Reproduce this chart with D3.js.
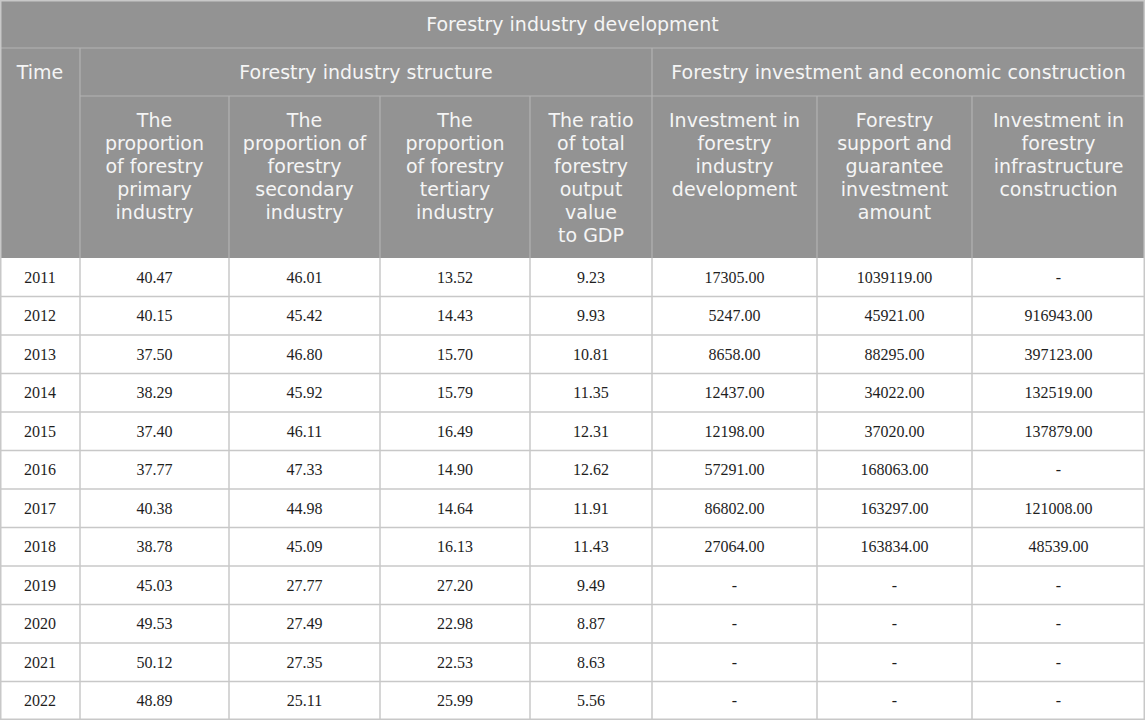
<!DOCTYPE html>
<html>
<head>
<meta charset="utf-8">
<script src="https://cdn.jsdelivr.net/npm/d3@7"></script>
<style>
  html, body { margin: 0; padding: 0; background: #fff; }
</style>
</head>
<body>
<div id="table"></div>
<script>
// table data
const title = "Forestry industry development";
const groupHeaders = ["Forestry industry structure", "Forestry investment and economic construction"];
const columnHeaders = [
  ["The", "proportion", "of forestry", "primary", "industry"],
  ["The", "proportion of", "forestry", "secondary", "industry"],
  ["The", "proportion", "of forestry", "tertiary", "industry"],
  ["The ratio", "of total", "forestry", "output", "value", "to GDP"],
  ["Investment in", "forestry", "industry", "development"],
  ["Forestry", "support and", "guarantee", "investment", "amount"],
  ["Investment in", "forestry", "infrastructure", "construction"]
];
const years = [2011, 2012, 2013, 2014, 2015, 2016, 2017, 2018, 2019, 2020, 2021, 2022];
const primaryShare   = ["40.47","40.15","37.50","38.29","37.40","37.77","40.38","38.78","45.03","49.53","50.12","48.89"];
const secondaryShare = ["46.01","45.42","46.80","45.92","46.11","47.33","44.98","45.09","27.77","27.49","27.35","25.11"];
const tertiaryShare  = ["13.52","14.43","15.70","15.79","16.49","14.90","14.64","16.13","27.20","22.98","22.53","25.99"];
const outputToGdp    = ["9.23","9.93","10.81","11.35","12.31","12.62","11.91","11.43","9.49","8.87","8.63","5.56"];
const industryInvest = ["17305.00","5247.00","8658.00","12437.00","12198.00","57291.00","86802.00","27064.00","-","-","-","-"];
const supportInvest  = ["1039119.00","45921.00","88295.00","34022.00","37020.00","168063.00","163297.00","163834.00","-","-","-","-"];
const infraInvest    = ["-","916943.00","397123.00","132519.00","137879.00","-","121008.00","48539.00","-","-","-","-"];

const W = 1145, H = 720;
const colEdges = [0, 80, 229, 380, 530, 652, 817, 972, 1145];
const headBg = "#939393", headLine = "#b3b3b3", gridLine = "#c8c8c8";

const svg = d3.select("#table").append("svg")
  .attr("width", W).attr("height", H)
  .style("display", "block");

// rows: three header rows then 12 data rows
const y = d3.scaleBand().domain(years).range([258, H]);

const columns = [years.map(String), primaryShare, secondaryShare, tertiaryShare, outputToGdp,
                 industryInvest, supportInvest, infraInvest];

// header background
svg.append("rect").attr("x", 0).attr("y", 0).attr("width", W).attr("height", 258).attr("fill", headBg);

const headFont = "'DejaVu Sans', 'Noto Sans', sans-serif";
const headSize = 19;
const headText = "#f5f5f5";

function headLabel(txt, x, yy) {
  return svg.append("text").text(txt)
    .attr("x", x).attr("y", yy).attr("dy", "0.35em")
    .attr("text-anchor", "middle").attr("font-family", headFont).attr("font-size", headSize)
    .attr("fill", headText);
}

headLabel(title, W / 2, 24);
headLabel("Time", (colEdges[0] + colEdges[1]) / 2, 72);

// group headers
const groupSpans = [[1, 5], [5, 8]];
groupSpans.forEach(([a, b], i) => headLabel(groupHeaders[i], (colEdges[a] + colEdges[b]) / 2, 72));

// column headers
columnHeaders.forEach((lines, i) => {
  const cx = (colEdges[i + 1] + colEdges[i + 2]) / 2;
  const t = svg.append("text")
    .attr("text-anchor", "middle").attr("font-family", headFont).attr("font-size", headSize)
    .attr("fill", headText);
  lines.forEach((ln, j) => {
    t.append("tspan").text(ln).attr("x", cx).attr("y", 120 + j * 23).attr("dy", "0.35em");
  });
});

// header lines
const hl = svg.append("g").attr("stroke", headLine).attr("stroke-width", 1.2);
hl.append("line").attr("x1", 0).attr("x2", W).attr("y1", 48).attr("y2", 48);
hl.append("line").attr("x1", colEdges[1]).attr("x2", W).attr("y1", 96).attr("y2", 96);
hl.append("line").attr("x1", colEdges[1]).attr("x2", colEdges[1]).attr("y1", 48).attr("y2", 258);
hl.append("line").attr("x1", colEdges[5]).attr("x2", colEdges[5]).attr("y1", 48).attr("y2", 258);
[2, 3, 4, 6, 7].forEach(c => {
  hl.append("line").attr("x1", colEdges[c]).attr("x2", colEdges[c]).attr("y1", 96).attr("y2", 258);
});

// data cells
const body = svg.append("g");
columns.forEach((vals, c) => {
  const cx = (colEdges[c] + colEdges[c + 1]) / 2;
  body.selectAll(null)
    .data(vals.map((v, r) => ({ v, yr: years[r] })))
    .join("text")
      .attr("x", cx)
      .attr("y", d => y(d.yr) + y.bandwidth() / 2)
      .attr("dy", "0.35em")
      .attr("text-anchor", "middle")
      .attr("font-family", "'Liberation Serif', 'Times New Roman', serif")
      .attr("font-size", 16)
      .attr("fill", "#1e1e1e")
      .text(d => d.v);
});

// grid
const gl = svg.append("g").attr("stroke", gridLine).attr("stroke-width", 1.5);
years.forEach(yr => {
  gl.append("line").attr("x1", 0).attr("x2", W).attr("y1", y(yr) + y.bandwidth()).attr("y2", y(yr) + y.bandwidth());
});
colEdges.slice(1, -1).forEach(x => {
  gl.append("line").attr("x1", x).attr("x2", x).attr("y1", 258).attr("y2", H);
});
svg.append("rect").attr("x", 0.75).attr("y", 0.75).attr("width", W - 1.5).attr("height", H - 1.5)
  .attr("fill", "none").attr("stroke", gridLine).attr("stroke-width", 1.5);
</script>
</body>
</html>
